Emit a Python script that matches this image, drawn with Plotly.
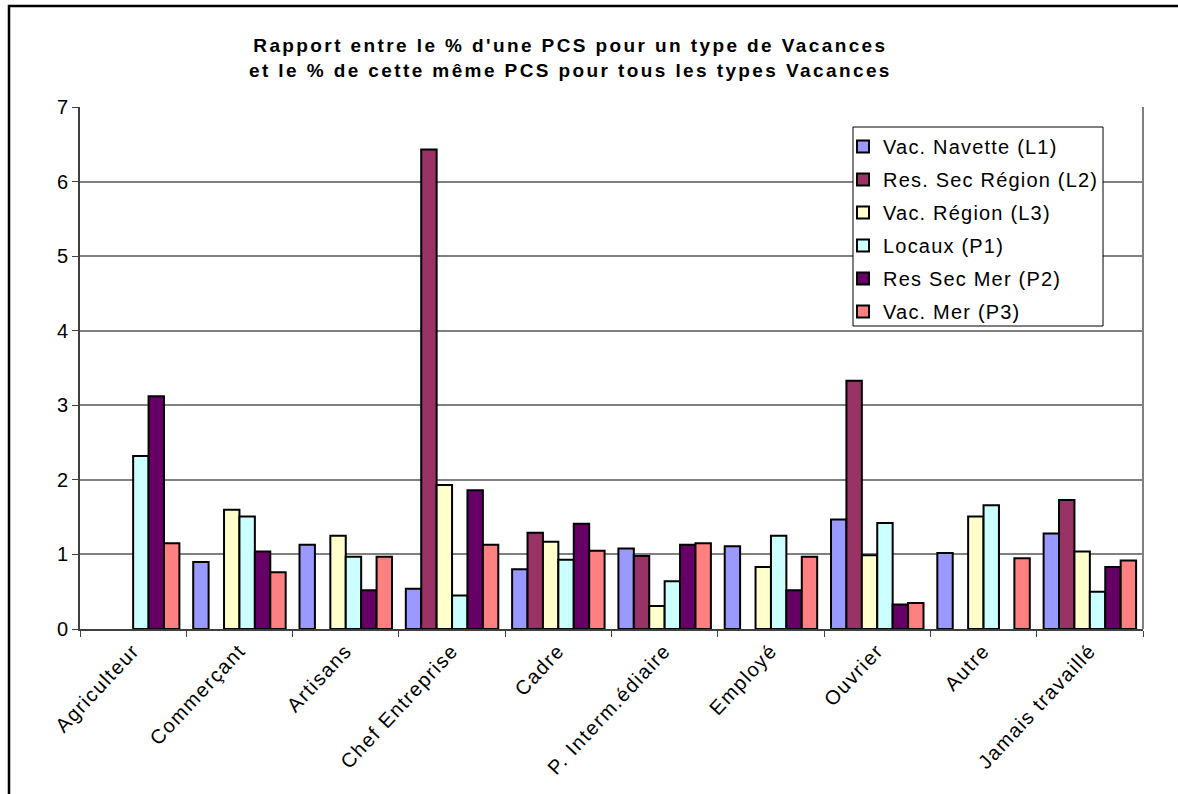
import plotly.graph_objects as go

# Socio-professional categories (PCS)
categories = ["Agriculteur", "Commerçant", "Artisans", "Chef Entreprise", "Cadre",
              "P. Interm.édiaire", "Employé", "Ouvrier", "Autre", "Jamais travaillé"]

# Ratio of a PCS share in a holiday type to its share across all holiday types
vac_navette_l1 = [None, 0.90, 1.13, 0.54, 0.80, 1.08, 1.11, 1.47, 1.02, 1.28]
res_sec_region_l2 = [None, None, None, 6.43, 1.29, 0.98, None, 3.33, None, 1.73]
vac_region_l3 = [None, 1.60, 1.25, 1.93, 1.17, 0.31, 0.83, 0.99, 1.51, 1.04]
locaux_p1 = [2.32, 1.51, 0.97, 0.45, 0.93, 0.64, 1.25, 1.42, 1.66, 0.50]
res_sec_mer_p2 = [3.12, 1.04, 0.52, 1.86, 1.41, 1.13, 0.52, 0.33, None, 0.83]
vac_mer_p3 = [1.15, 0.76, 0.97, 1.13, 1.05, 1.15, 0.97, 0.35, 0.95, 0.92]

series = [
    ("Vac. Navette (L1)", vac_navette_l1, "#9999FF"),
    ("Res. Sec Région (L2)", res_sec_region_l2, "#993366"),
    ("Vac. Région (L3)", vac_region_l3, "#FFFFCC"),
    ("Locaux (P1)", locaux_p1, "#CCFFFF"),
    ("Res Sec Mer (P2)", res_sec_mer_p2, "#660066"),
    ("Vac. Mer (P3)", vac_mer_p3, "#FF8080"),
]

W, H = 1178, 794
L, R, T, B = 80, 35, 107, 165
PW, PH = W - L - R, H - T - B


def px_x(x):
    return (x - L) / PW


def px_y(y):
    return 1 - (y - T) / PH


def spaced(text, px):
    return f'<span style="letter-spacing:{px}px">{text}</span>'


fig = go.Figure()
for i, (name, vals, color) in enumerate(series):
    fig.add_trace(go.Bar(
        x=categories, y=vals, name=spaced(name, 1.2), legendgroup=f"g{i}",
        marker=dict(color=color, line=dict(color="black", width=2)),
    ))

font = "Liberation Sans, Arial, sans-serif"

fig.update_layout(
    width=W, height=H,
    margin=dict(l=L, r=R, t=T, b=B),
    paper_bgcolor="white", plot_bgcolor="white",
    barmode="group", bargap=0.13, bargroupgap=0,
    font=dict(family=font, size=18, color="black"),
    showlegend=True,
    legend=dict(
        x=px_x(843), y=px_y(127), xanchor="left", yanchor="top",
        bgcolor="rgba(0,0,0,0)", borderwidth=0,
        font=dict(family=font, size=20, color="black"),
        tracegroupgap=4, itemsizing="constant",
    ),
    xaxis=dict(
        type="category", tickangle=-47, tickson="boundaries",
        tickvals=categories, ticktext=[spaced(c, 1.5) for c in categories],
        ticks="outside", ticklen=6, tickcolor="#404040",
        showline=True, linecolor="#404040", linewidth=2,
        showgrid=False, tickfont=dict(family=font, size=20),
    ),
    yaxis=dict(
        range=[0, 7], dtick=1, tickformat="d",
        ticks="outside", ticklen=6, tickcolor="#404040",
        showline=True, linecolor="#404040", linewidth=2,
        showgrid=True, gridcolor="#808080", gridwidth=1.5,
        zeroline=False, tickfont=dict(family=font, size=20),
    ),
    annotations=[dict(
        text="<b>" + spaced("Rapport entre le % d'une PCS pour un type de Vacances", 2.4)
             + "<br>" + spaced("et le % de cette même PCS pour tous les types Vacances", 2.4) + "</b>",
        xref="paper", yref="paper", x=px_x(570), y=px_y(58),
        xanchor="center", yanchor="middle", showarrow=False,
        font=dict(family=font, size=19, color="black"),
    )],
    shapes=[
        # outer chart frame
        dict(type="rect", xref="paper", yref="paper",
             x0=px_x(9), x1=px_x(1200), y0=px_y(6), y1=px_y(820),
             line=dict(color="black", width=2.5), layer="above"),
        # right edge of the plot area
        dict(type="line", xref="paper", yref="paper",
             x0=1, x1=1, y0=0, y1=1,
             line=dict(color="#808080", width=2)),
        # legend frame
        dict(type="rect", xref="paper", yref="paper",
             x0=px_x(853), x1=px_x(1103), y0=px_y(326), y1=px_y(127),
             line=dict(color="black", width=1), fillcolor="white", layer="above"),
    ],
)

fig.write_html("out.html")
